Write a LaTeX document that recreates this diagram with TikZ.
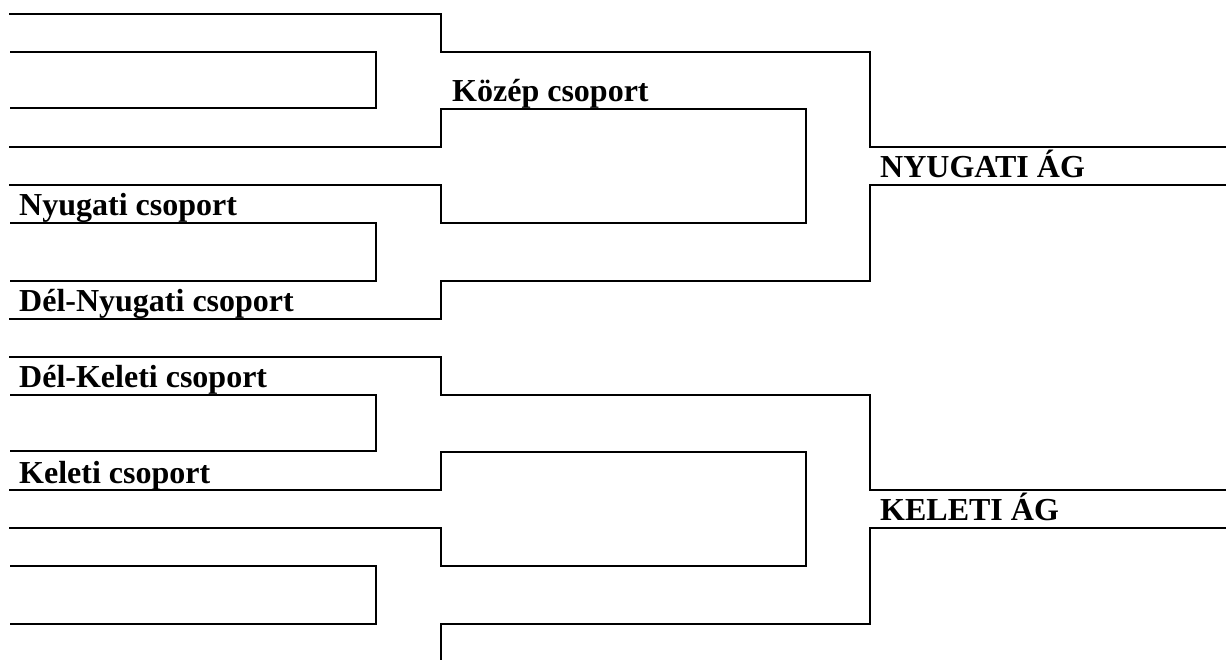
\documentclass[tikz,border=0pt]{standalone}
\usepackage{fontspec}
\setmainfont{Liberation Serif}
\begin{document}
\begin{tikzpicture}[x=1pt,y=-1pt,
  br/.style={line width=2.3pt, line join=miter},
  lbl/.style={font=\fontsize{32}{32}\selectfont\bfseries, anchor=base west, inner sep=0pt}]
\useasboundingbox (0,0) rectangle (1226,659);
\clip (0,0) rectangle (1226,659);
\foreach \o in {0,343} {
  \draw[br] (9,14+\o) -- (441,14+\o) -- (441,52+\o) -- (870,52+\o) -- (870,147+\o) -- (1230,147+\o);
  \draw[br] (10,52+\o) -- (376,52+\o) -- (376,108+\o) -- (10,108+\o);
  \draw[br] (9,147+\o) -- (441,147+\o) -- (441,109+\o) -- (806,109+\o) -- (806,223+\o) -- (441,223+\o) -- (441,185+\o) -- (9,185+\o);
  \draw[br] (10,223+\o) -- (376,223+\o) -- (376,281+\o) -- (10,281+\o);
  \draw[br] (9,319+\o) -- (441,319+\o) -- (441,281+\o) -- (870,281+\o) -- (870,185+\o) -- (1230,185+\o);
}
\node[lbl] (kozep) at (452,101) {Közép csoport};
\node[lbl] (nyug) at (19,215) {Nyugati csoport};
\node[lbl] (dny) at (19,311) {Dél-Nyugati csoport};
\node[lbl] (nyag) at (880,177) {NYUGATI ÁG};
\node[lbl] (dk) at (19,387) {Dél-Keleti csoport};
\node[lbl] (kel) at (19,483) {Keleti csoport};
\node[lbl] (kag) at (880,520) {KELETI ÁG};
\end{tikzpicture}
\end{document}
